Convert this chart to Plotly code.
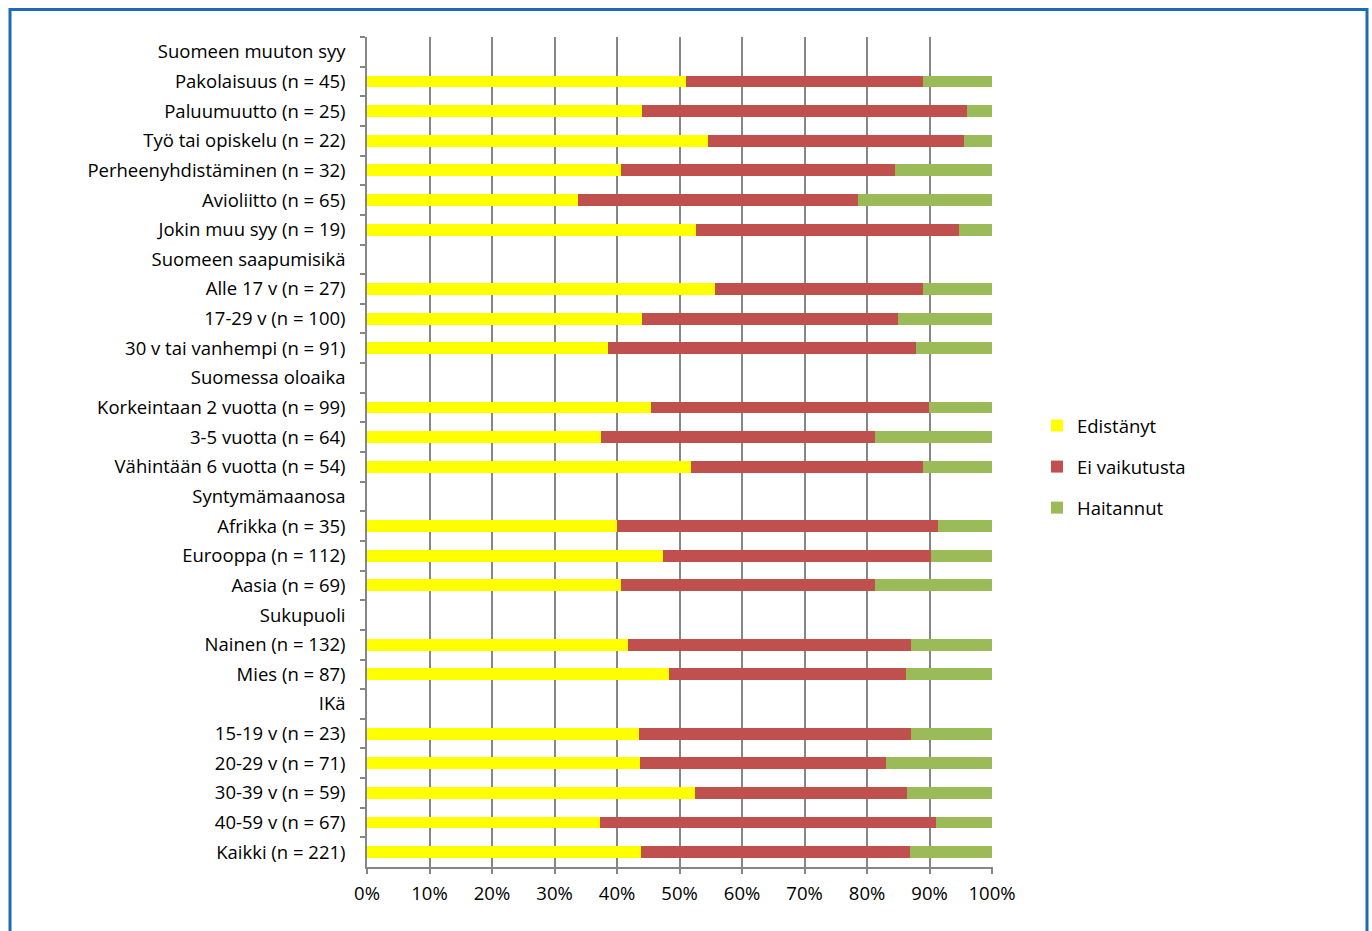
import plotly.graph_objects as go

categories = [
    "Suomeen muuton syy", "Pakolaisuus (n = 45)", "Paluumuutto (n = 25)",
    "Työ tai opiskelu (n = 22)", "Perheenyhdistäminen (n = 32)", "Avioliitto (n = 65)",
    "Jokin muu syy (n = 19)", "Suomeen saapumisikä", "Alle 17 v (n = 27)",
    "17-29 v (n = 100)", "30 v tai vanhempi (n = 91)", "Suomessa oloaika",
    "Korkeintaan 2 vuotta (n = 99)", "3-5 vuotta (n = 64)", "Vähintään 6 vuotta (n = 54)",
    "Syntymämaanosa", "Afrikka (n = 35)", "Eurooppa (n = 112)", "Aasia (n = 69)",
    "Sukupuoli", "Nainen (n = 132)", "Mies (n = 87)", "IKä",
    "15-19 v (n = 23)", "20-29 v (n = 71)", "30-39 v (n = 59)", "40-59 v (n = 67)",
    "Kaikki (n = 221)",
]

edistanyt = [None, 51.1, 44.0, 54.5, 40.6, 33.8, 52.6, None, 55.6, 44.0, 38.5, None,
             45.5, 37.5, 51.9, None, 40.0, 47.3, 40.6, None, 41.7, 48.3, None,
             43.5, 43.7, 52.5, 37.3, 43.9]
ei_vaikutusta = [None, 37.8, 52.0, 41.0, 43.8, 44.7, 42.1, None, 33.3, 41.0, 49.4, None,
                 44.4, 43.8, 37.0, None, 51.4, 42.9, 40.6, None, 45.4, 37.9, None,
                 43.5, 39.4, 33.9, 53.7, 43.0]
haitannut = [None, 11.1, 4.0, 4.5, 15.6, 21.5, 5.3, None, 11.1, 15.0, 12.1, None,
             10.1, 18.7, 11.1, None, 8.6, 9.8, 18.8, None, 12.9, 13.8, None,
             13.0, 16.9, 13.6, 9.0, 13.1]

x_ticks = [0, 10, 20, 30, 40, 50, 60, 70, 80, 90, 100]
x_ticklabels = [f"{v}%" for v in x_ticks]

series = [
    ("Edistänyt", edistanyt, "#FFFF00"),
    ("Ei vaikutusta", ei_vaikutusta, "#C0504D"),
    ("Haitannut", haitannut, "#9BBB59"),
]

FONT = "Open Sans"
FS = 18.5
fig = go.Figure()
for i, (name, vals, col) in enumerate(series):
    fig.add_trace(go.Bar(
        y=categories, x=vals, name=name, orientation="h",
        marker=dict(color=col, line=dict(width=0)),
        legendgroup=f"g{i}",
    ))

W, H = 1372, 931
L, R, T, B = 367, 379, 37, 64
pw, ph = W - L - R, H - T - B

def px_x(p):
    return (p - L) / pw

def px_y(p):
    return (H - B - p) / ph

fig.update_layout(
    width=W, height=H, autosize=False,
    barmode="stack", bargap=0.6,
    margin=dict(l=L, r=R, t=T, b=B, pad=0),
    paper_bgcolor="white", plot_bgcolor="white",
    font=dict(family=FONT, size=FS, color="#000000"),
    showlegend=True,
    legend=dict(x=px_x(1037), y=px_y(407), xanchor="left", yanchor="top",
                traceorder="grouped", tracegroupgap=14,
                font=dict(family=FONT, size=FS, color="#000000"),
                itemwidth=30),
    xaxis=dict(range=[0, 100.15], tickvals=x_ticks, ticktext=x_ticklabels,
               showgrid=True, gridcolor="#868686", gridwidth=1.5,
               zeroline=False, showline=True, linecolor="#868686", linewidth=1.5,
               ticks="outside", ticklen=5, tickcolor="#868686", tickwidth=1.5,
               ticklabelstandoff=4),
    yaxis=dict(type="category", categoryorder="array", categoryarray=categories,
               autorange="reversed", showgrid=False, zeroline=False,
               showline=True, linecolor="#868686", linewidth=1.5,
               ticks="outside", ticklen=5, tickcolor="#868686", tickwidth=1.5,
               tickson="boundaries", ticklabelstandoff=16),
    shapes=[dict(type="rect", xref="paper", yref="paper",
                 x0=px_x(10), x1=px_x(1367), y0=px_y(940), y1=px_y(9.5),
                 line=dict(color="#1A6CB4", width=3), fillcolor="rgba(0,0,0,0)",
                 layer="below")],
)

fig.write_html("out.html", config={"displayModeBar": False},
               post_script="document.body.style.margin='0';")
